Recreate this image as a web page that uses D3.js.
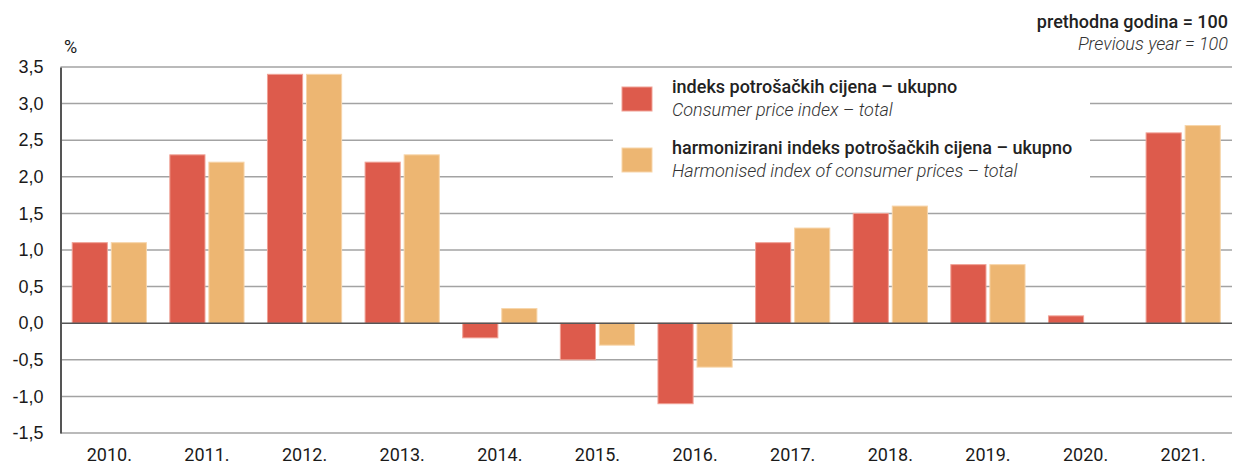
<!DOCTYPE html>
<html>
<head>
<meta charset="utf-8">
<script src="https://cdn.jsdelivr.net/npm/d3@7"></script>
<style>
  body { margin: 0; background: #fff; }
  svg { display: block; font-family: Roboto, "Liberation Sans", sans-serif; }
</style>
</head>
<body>
<div id="chart"></div>
<script>
// data
var years = ["2010.", "2011.", "2012.", "2013.", "2014.", "2015.", "2016.", "2017.", "2018.", "2019.", "2020.", "2021."];
var cpi  = [1.1, 2.3, 3.4, 2.2, -0.2, -0.5, -1.1, 1.1, 1.5, 0.8, 0.1, 2.6];
var hicp = [1.1, 2.2, 3.4, 2.3, 0.2, -0.3, -0.6, 1.3, 1.6, 0.8, 0.0, 2.7];
var yTicks = [-1.5, -1.0, -0.5, 0.0, 0.5, 1.0, 1.5, 2.0, 2.5, 3.0, 3.5];
var seriesNames = ["cpi", "hicp"];
var seriesColors = ["#dd5b4c", "#edb672"];
var seriesStrokes = ["#f0a195", "#f7d5aa"];
var legendBold = ["indeks potrošačkih cijena – ukupno", "harmonizirani indeks potrošačkih cijena – ukupno"];
var legendItalic = ["Consumer price index – total", "Harmonised index of consumer prices – total"];

var width = 1234, height = 465;
var plotLeft = 60.5, plotRight = 1232, plotTop = 67, plotBottom = 433;

var svg = d3.select("#chart").append("svg").attr("width", width).attr("height", height);

var x0 = d3.scaleBand().domain(years).range([plotLeft, plotRight]).paddingInner(0.24).paddingOuter(0.12);
var x1 = d3.scaleBand().domain(seriesNames).range([0, x0.bandwidth()]).paddingInner(0.1);
var y = d3.scaleLinear().domain([-1.5, 3.5]).range([plotBottom, plotTop]);

// gridlines
svg.append("g").selectAll("line")
  .data(yTicks.filter(function(d) { return d !== 0; }))
  .enter().append("line")
  .attr("x1", plotLeft).attr("x2", plotRight)
  .attr("y1", function(d) { return y(d); }).attr("y2", function(d) { return y(d); })
  .attr("stroke", "#a3a3a3").attr("stroke-width", 1.5);

// white box behind the legend
svg.append("rect").attr("x", 613).attr("y", 72).attr("width", 477).attr("height", 122).attr("fill", "#fff");

// bars
var rows = years.map(function(yr, i) { return { year: yr, values: [cpi[i], hicp[i]] }; });
var group = svg.append("g").selectAll("g")
  .data(rows)
  .enter().append("g")
  .attr("transform", function(d) { return "translate(" + x0(d.year) + ",0)"; });

group.selectAll("rect")
  .data(function(d) { return d.values.map(function(v, k) { return { k: k, v: v }; }); })
  .enter().append("rect")
  .filter(function(d) { return d.v !== 0; })
  .attr("x", function(d) { return x1(seriesNames[d.k]); })
  .attr("width", x1.bandwidth())
  .attr("y", function(d) { return y(Math.max(0, d.v)); })
  .attr("height", function(d) { return Math.abs(y(d.v) - y(0)); })
  .attr("fill", function(d) { return seriesColors[d.k]; })
  .attr("stroke", function(d) { return seriesStrokes[d.k]; })
  .attr("stroke-width", 1);

// zero line
svg.append("line").attr("x1", plotLeft).attr("x2", plotRight).attr("y1", y(0)).attr("y2", y(0))
  .attr("stroke", "#555").attr("stroke-width", 1.5);

// y axis
var yAxis = d3.axisLeft(y).tickValues(yTicks).tickSize(0).tickPadding(17)
  .tickFormat(function(d) { return d3.format(".1f")(d).replace(".", ",").replace("−", "-"); });
var ya = svg.append("g").attr("transform", "translate(" + plotLeft + ",0)").call(yAxis);
ya.select(".domain").attr("stroke", "#555").attr("stroke-width", 2);
ya.selectAll("text").attr("font-size", 18).attr("fill", "#1a1a1a").attr("font-family", null);

// x labels
svg.append("g").selectAll("text")
  .data(years)
  .enter().append("text")
  .attr("x", function(d) { return x0(d) + x0.bandwidth() / 2; })
  .attr("y", 461)
  .attr("text-anchor", "middle")
  .attr("font-size", 18).attr("fill", "#1a1a1a")
  .text(function(d) { return d; });

// unit and base
svg.append("text").attr("x", 64).attr("y", 53).attr("font-size", 18).attr("fill", "#1a1a1a").text("%");
svg.append("text").attr("x", 1228).attr("y", 28).attr("text-anchor", "end")
  .attr("font-size", 18).attr("font-weight", 500).attr("fill", "#222").text("prethodna godina = 100");
svg.append("text").attr("x", 1228).attr("y", 50).attr("text-anchor", "end")
  .attr("font-size", 18).attr("font-style", "italic").attr("font-weight", 300).attr("fill", "#333").text("Previous year = 100");

// legend
var legend = svg.append("g").selectAll("g")
  .data(seriesNames)
  .enter().append("g")
  .attr("transform", function(d, i) { return "translate(622," + (87 + i * 61) + ")"; });
legend.append("rect").attr("width", 30).attr("height", 24)
  .attr("fill", function(d, i) { return seriesColors[i]; })
  .attr("stroke", function(d, i) { return seriesStrokes[i]; });
legend.append("text").attr("x", 50).attr("y", 6)
  .attr("font-size", 18).attr("font-weight", 500).attr("fill", "#222")
  .text(function(d, i) { return legendBold[i]; });
legend.append("text").attr("x", 50).attr("y", 29)
  .attr("font-size", 18).attr("font-style", "italic").attr("font-weight", 300).attr("fill", "#333")
  .text(function(d, i) { return legendItalic[i]; });
</script>
</body>
</html>
